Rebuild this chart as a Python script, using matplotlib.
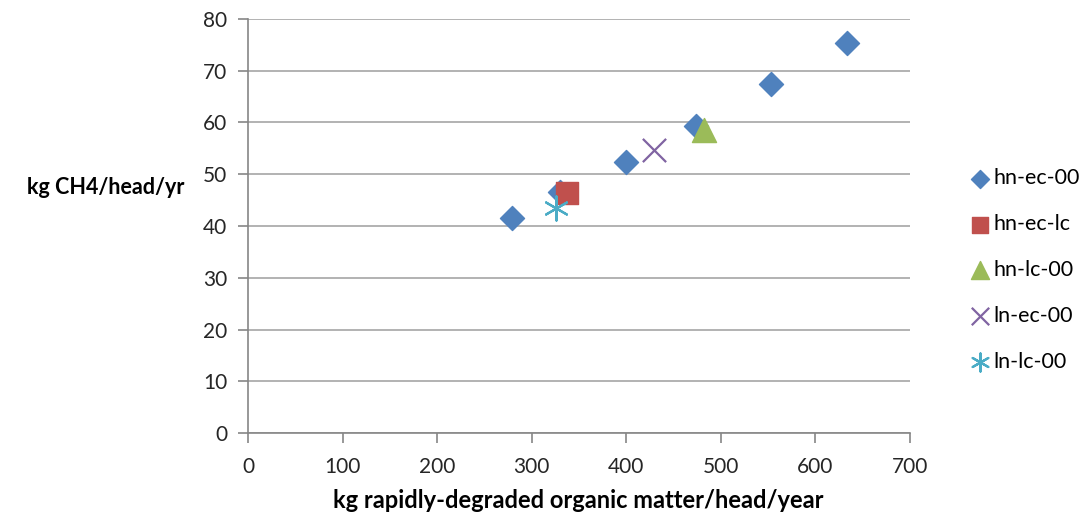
import matplotlib.pyplot as plt

plt.rcParams['font.family'] = ['Lato', 'DejaVu Sans']

# values
hn_ec_00_x = [279, 330, 400, 474, 553, 633]
hn_ec_00_y = [41.6, 46.5, 52.3, 59.4, 67.4, 75.3]
hn_ec_lc_x = [337]
hn_ec_lc_y = [46.4]
hn_lc_00_x = [482]
hn_lc_00_y = [58.6]
ln_ec_00_x = [429]
ln_ec_00_y = [54.6]
ln_lc_00_x = [326]
ln_lc_00_y = [43.4]

x_ticks = [0, 100, 200, 300, 400, 500, 600, 700]
y_ticks = [0, 10, 20, 30, 40, 50, 60, 70, 80]

fig = plt.figure(figsize=(10.91, 5.17), dpi=100)
ax = fig.add_axes([248/1091, 1-433/517, 662/1091, 414/517])

ax.scatter(hn_ec_00_x, hn_ec_00_y, marker='D', s=150, color='#4F81BD', label='hn-ec-00', zorder=3)
ax.scatter(hn_ec_lc_x, hn_ec_lc_y, marker='s', s=260, color='#C0504D', label='hn-ec-lc', zorder=3)
ax.scatter(hn_lc_00_x, hn_lc_00_y, marker='^', s=300, color='#9BBB59', label='hn-lc-00', zorder=3)
ax.scatter(ln_ec_00_x, ln_ec_00_y, marker='x', s=280, color='#8064A2', linewidths=1.6, label='ln-ec-00', zorder=3)
ax.scatter(ln_lc_00_x, ln_lc_00_y, marker=(6, 2, 0), s=300, color='#4BACC6', linewidths=1.6, label='ln-lc-00', zorder=3)

ax.set_xlim(0, 700)
ax.set_ylim(0, 80)
ax.set_xticks(x_ticks)
ax.set_yticks(y_ticks)
ax.grid(axis='y', color='#A6A6A6', linewidth=1.2)
ax.set_axisbelow(True)
for side in ['top', 'right']:
    ax.spines[side].set_visible(False)
for side in ['left', 'bottom']:
    ax.spines[side].set_color('#868686')
    ax.spines[side].set_linewidth(1.2)
ax.tick_params(colors='#868686', labelcolor='#262626', labelsize=15, length=7, width=1.2)
ax.tick_params(axis='x', pad=10)
ax.tick_params(axis='y', pad=8)

fig.text(106/1091, 1-188/517, 'kg CH4/head/yr', ha='center', va='center', fontsize=15.5, fontweight='bold')
fig.text(578/1091, 1-500/517, 'kg rapidly-degraded organic matter/head/year', ha='center', va='center',
         fontsize=17, fontweight='bold')

leg = ax.legend(loc='center left', bbox_to_anchor=(969/1091, 1-270/517), bbox_transform=fig.transFigure,
                frameon=False, fontsize=15.5, labelspacing=1.2, handletextpad=0.15, handlelength=1.0,
                borderpad=0, borderaxespad=0, markerscale=0.75)

fig.savefig('out.png', dpi=100)
